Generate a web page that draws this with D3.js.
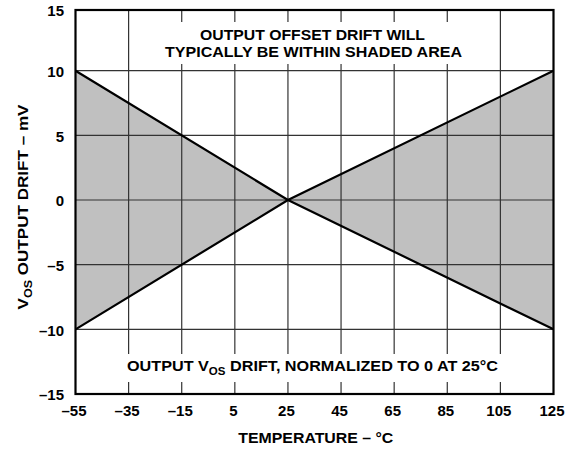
<!DOCTYPE html>
<html>
<head>
<meta charset="utf-8">
<script src="https://cdn.jsdelivr.net/npm/d3@7"></script>
<style>
  html, body { margin: 0; padding: 0; background: #fff; }
  svg { display: block; font-family: "Liberation Sans", Arial, sans-serif; font-weight: bold; }
</style>
</head>
<body>
<svg id="chart" width="579" height="449"></svg>
<script>
// ---- data ----
const xTicks = [-55, -35, -15, 5, 25, 45, 65, 85, 105, 125];
const yTicks = [-15, -10, -5, 0, 5, 10, 15];
const temps = [-55, 25, 125];
const upperDrift = [10, 0, 10];
const lowerDrift = [-10, 0, -10];
const lineA = [10, 0, -10];
const lineB = [-10, 0, 10];
const topNote = ["OUTPUT OFFSET DRIFT WILL", "TYPICALLY BE WITHIN SHADED AREA"];
const xTitle = "TEMPERATURE – °C";

const svg = d3.select("#chart");
const L = 75.5, R = 553.5, T = 10, B = 394;
const x = d3.scaleLinear().domain([-55, 125]).range([L, R]);
const y = d3.scaleLinear().domain([-15, 10, 15]).range([B, 70.7, T]);
const fmt = v => String(v).replace("-", "–");
const FS = 15;

// shaded area
const pts = temps.map((t, i) => ({t, lo: lowerDrift[i], hi: upperDrift[i], a: lineA[i], b: lineB[i]}));
svg.append("path").datum(pts)
  .attr("d", d3.area().x(d => x(d.t)).y0(d => y(d.lo)).y1(d => y(d.hi)))
  .attr("fill", "#c0c0c0");

// grid
const g = svg.append("g").attr("stroke", "#333").attr("stroke-width", 1.2);
xTicks.slice(1, -1).forEach(v => g.append("line").attr("x1", x(v)).attr("x2", x(v)).attr("y1", T).attr("y2", B));
yTicks.slice(1, -1).forEach(v => g.append("line").attr("x1", L).attr("x2", R).attr("y1", y(v)).attr("y2", y(v)));

// boundary lines
["a", "b"].forEach(k => {
  svg.append("path").datum(pts)
    .attr("d", d3.line().x(d => x(d.t)).y(d => y(d[k])))
    .attr("fill", "none").attr("stroke", "#000").attr("stroke-width", 2.2);
});

// text notes with white backgrounds
const topG = svg.append("g");
topG.append("rect").attr("fill", "#fff").attr("x", 159).attr("width", 309).attr("y", 22).attr("height", 42);
topG.append("text").attr("x", 312.5).attr("y", 40).attr("text-anchor", "middle").attr("font-size", FS + 0.5)
  .attr("textLength", 225).attr("lengthAdjust", "spacingAndGlyphs").text(topNote[0]);
topG.append("text").attr("x", 313.5).attr("y", 56.7).attr("text-anchor", "middle").attr("font-size", FS + 0.5)
  .attr("textLength", 297).attr("lengthAdjust", "spacingAndGlyphs").text(topNote[1]);

const botG = svg.append("g");
botG.append("rect").attr("fill", "#fff").attr("x", 122).attr("width", 381).attr("y", 354).attr("height", 28);
const bt = botG.append("text").attr("x", 127).attr("y", 371).attr("font-size", FS + 0.5)
  .attr("textLength", 371).attr("lengthAdjust", "spacingAndGlyphs");
bt.append("tspan").text("OUTPUT V");
bt.append("tspan").attr("font-size", 11).attr("dy", 4).text("OS");
bt.append("tspan").attr("dy", -4).text(" DRIFT, NORMALIZED TO 0 AT 25°C");

// frame
svg.append("rect").attr("x", L).attr("y", T).attr("width", R - L).attr("height", B - T)
  .attr("fill", "none").attr("stroke", "#000").attr("stroke-width", 2.2);

// tick labels
svg.append("g").selectAll("text").data(yTicks).join("text")
  .attr("x", 64).attr("y", d => y(d) + 6.4).attr("text-anchor", "end").attr("font-size", FS).text(fmt);
svg.append("g").selectAll("text").data(xTicks).join("text")
  .attr("x", d => x(d) - 1.5).attr("y", 416).attr("text-anchor", "middle").attr("font-size", FS).text(fmt);

// axis titles
svg.append("text").attr("x", 315.8).attr("y", 443).attr("text-anchor", "middle").attr("font-size", FS)
  .attr("textLength", 155).attr("lengthAdjust", "spacingAndGlyphs").text(xTitle);
const yt = svg.append("text").attr("transform", `translate(27.5,207) rotate(-90)`).attr("text-anchor", "middle").attr("font-size", FS)
  .attr("textLength", 205).attr("lengthAdjust", "spacingAndGlyphs");
yt.append("tspan").text("V");
yt.append("tspan").attr("font-size", 11).attr("dy", 4).text("OS");
yt.append("tspan").attr("dy", -4).text(" OUTPUT DRIFT – mV");
</script>
</body>
</html>
